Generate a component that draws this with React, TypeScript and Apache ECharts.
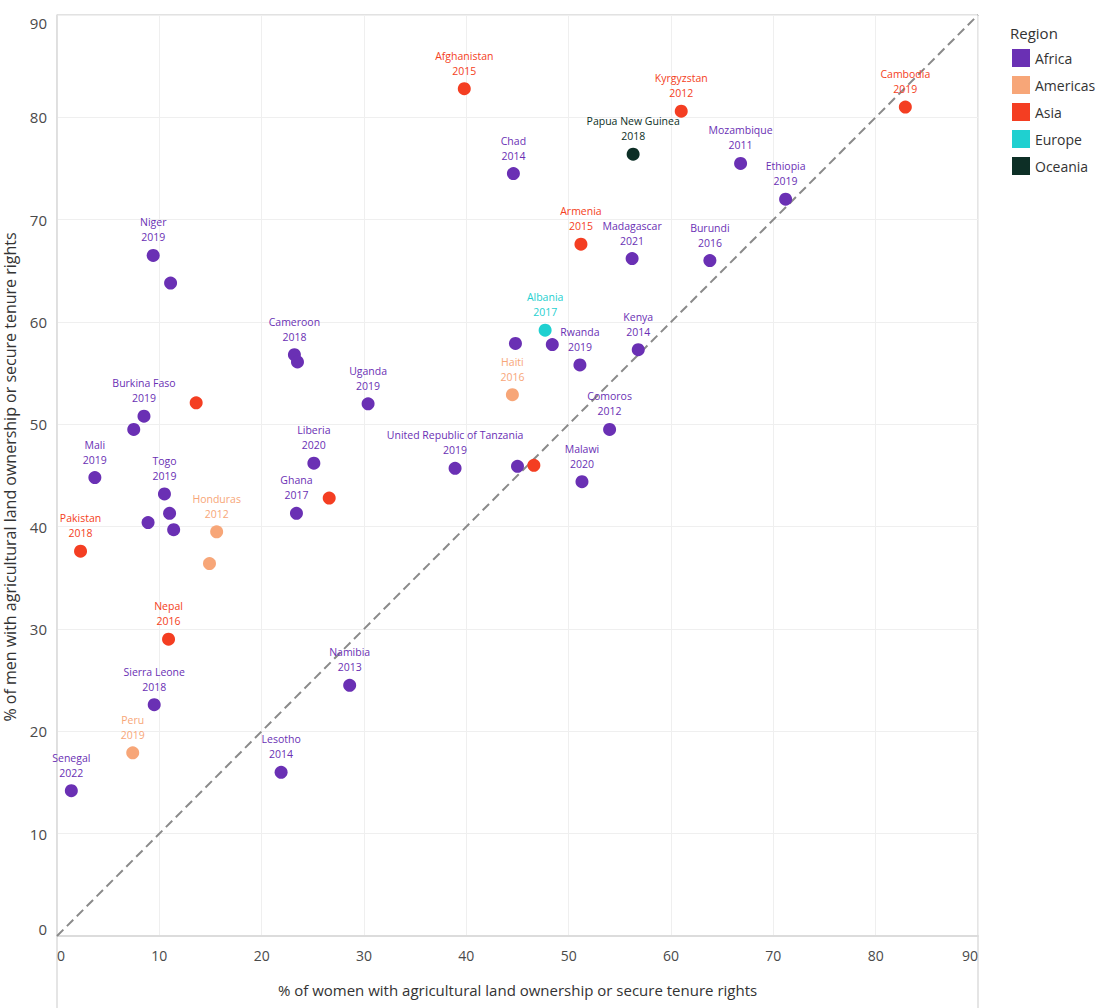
import React, { useEffect, useRef } from "react";
import * as echarts from "echarts";

const regionNames = ["Africa", "Americas", "Asia", "Europe", "Oceania"];
const regionColors = ["#6a30b4", "#f7a678", "#f43e22", "#1fd0d0", "#0d2f26"];

const countries = [
  "Afghanistan", "Kyrgyzstan", "Cambodia", "Papua New Guinea", "Chad", "Mozambique", "Ethiopia", "Niger", "",
  "Armenia", "Madagascar", "Burundi", "Albania", "", "", "Rwanda", "Kenya", "Cameroon", "",
  "Haiti", "Uganda", "Burkina Faso", "", "", "Comoros", "Mali", "Liberia", "United Republic of Tanzania", "", "",
  "Malawi", "Togo", "", "", "", "Ghana", "", "Honduras", "", "Pakistan", "Nepal", "Sierra Leone", "Peru",
  "Senegal", "Namibia", "Lesotho",
];
const years = [
  "2015", "2012", "2019", "2018", "2014", "2011", "2019", "2019", "",
  "2015", "2021", "2016", "2017", "", "", "2019", "2014", "2018", "",
  "2016", "2019", "2019", "", "", "2012", "2019", "2020", "2019", "", "",
  "2020", "2019", "", "", "", "2017", "", "2012", "", "2018", "2016", "2018", "2019",
  "2022", "2013", "2014",
];
const womenPct = [
  39.8, 61.0, 82.9, 56.3, 44.6, 66.8, 71.2, 9.4, 11.1,
  51.2, 56.2, 63.8, 47.7, 44.8, 48.4, 51.1, 56.8, 23.2, 23.5,
  44.5, 30.4, 8.5, 7.5, 13.6, 54.0, 3.7, 25.1, 38.9, 45.0, 46.6,
  51.3, 10.5, 11.0, 11.4, 8.9, 23.4, 26.6, 15.6, 14.9, 2.3, 10.9, 9.5, 7.4,
  1.4, 28.6, 21.9,
];
const menPct = [
  82.8, 80.6, 81.0, 76.4, 74.5, 75.5, 72.0, 66.5, 63.8,
  67.6, 66.2, 66.0, 59.2, 57.9, 57.8, 55.8, 57.3, 56.8, 56.1,
  52.9, 52.0, 50.8, 49.5, 52.1, 49.5, 44.8, 46.2, 45.7, 45.9, 46.0,
  44.4, 43.2, 41.3, 39.7, 40.4, 41.3, 42.8, 39.5, 36.4, 37.6, 29.0, 22.6, 17.9,
  14.2, 24.5, 16.0,
];
const regions = [
  "Asia", "Asia", "Asia", "Oceania", "Africa", "Africa", "Africa", "Africa", "Africa",
  "Asia", "Africa", "Africa", "Europe", "Africa", "Africa", "Africa", "Africa", "Africa", "Africa",
  "Americas", "Africa", "Africa", "Africa", "Asia", "Africa", "Africa", "Africa", "Africa", "Africa", "Asia",
  "Africa", "Africa", "Africa", "Africa", "Africa", "Africa", "Asia", "Americas", "Americas", "Asia", "Asia", "Africa", "Americas",
  "Africa", "Africa", "Africa",
];
const parityLine = [0, 90];
const axisTicks = [0, 10, 20, 30, 40, 50, 60, 70, 80, 90];

const xTitle = "% of women with agricultural land ownership or secure tenure rights";
const yTitle = "% of men with agricultural land ownership or secure tenure rights";

const FONT = "'Open Sans', 'Noto Sans', sans-serif";

export default function App() {
  const ref = useRef<HTMLDivElement>(null);

  useEffect(() => {
    if (!ref.current) return;
    const chart = echarts.init(ref.current, null, { renderer: "svg" });

    const scatterSeries = regionNames.map((reg, ri) => {
      const data: any[] = [];
      countries.forEach((c, i) => {
        if (regions[i] !== reg) return;
        data.push({
          name: c,
          value: [womenPct[i], menPct[i]],
          year: years[i],
          label: { show: c !== "" },
        });
      });
      return {
        type: "scatter",
        name: reg,
        data,
        symbolSize: 13,
        z: 3,
        itemStyle: { color: regionColors[ri], opacity: 1 },
        label: {
          show: true,
          position: "top",
          distance: 4,
          color: regionColors[ri],
          fontFamily: FONT,
          fontSize: 10.5,
          fontWeight: 500,
          lineHeight: 15,
          align: "center",
          formatter: (p: any) => (p.name ? p.name + "\n" + p.data.year : ""),
        },
        labelLayout: { hideOverlap: false },
      };
    });

    const option: any = {
      animation: false,
      backgroundColor: "#ffffff",
      textStyle: { fontFamily: FONT },
      grid: { left: 57, top: 15, width: 921, height: 921, containLabel: false },
      xAxis: {
        type: "value",
        min: axisTicks[0],
        max: axisTicks[axisTicks.length - 1],
        interval: 10,
        name: xTitle,
        nameLocation: "middle",
        nameGap: 46,
        nameTextStyle: { fontFamily: FONT, fontSize: 15, color: "#333" },
        axisLine: { show: true, lineStyle: { color: "#dcdcdc", width: 2 } },
        axisTick: { show: false },
        axisLabel: {
          fontFamily: FONT,
          fontSize: 14,
          color: "#4a4a4a",
          margin: 12,
          alignMinLabel: "left",
          alignMaxLabel: "right",
        },
        splitLine: { show: true, lineStyle: { color: "#efefef", width: 1 } },
      },
      yAxis: {
        type: "value",
        min: axisTicks[0],
        max: axisTicks[axisTicks.length - 1],
        interval: 10,
        axisLine: { show: true, lineStyle: { color: "#dcdcdc", width: 1.5 } },
        axisTick: { show: false },
        axisLabel: {
          fontFamily: FONT,
          fontSize: 15,
          color: "#4a4a4a",
          margin: 10,
          verticalAlignMinLabel: "bottom",
          verticalAlignMaxLabel: "top",
        },
        splitLine: { show: true, lineStyle: { color: "#efefef", width: 1 } },
      },
      legend: {
        orient: "vertical",
        left: 1012,
        top: 49,
        padding: 0,
        icon: "rect",
        itemWidth: 18,
        itemHeight: 18,
        itemGap: 9,
        data: regionNames,
        textStyle: { fontFamily: FONT, fontSize: 14, color: "#333" },
        selectedMode: false,
      },
      graphic: [
        {
          type: "text",
          left: 1010,
          top: 25,
          style: { text: "Region", fontFamily: FONT, fontSize: 15, fill: "#333" },
        },
        {
          type: "text",
          x: 10,
          y: 477,
          rotation: Math.PI / 2,
          style: {
            text: yTitle,
            fontFamily: FONT,
            fontSize: 16,
            fill: "#333",
            align: "center",
            verticalAlign: "middle",
          },
        },
        { type: "line", shape: { x1: 57, y1: 15, x2: 978, y2: 15 }, style: { stroke: "#e2e2e2", lineWidth: 2 } },
        { type: "line", shape: { x1: 57, y1: 15, x2: 57, y2: 1008 }, style: { stroke: "#dcdcdc", lineWidth: 1.5 } },
        { type: "line", shape: { x1: 978, y1: 15, x2: 978, y2: 1008 }, style: { stroke: "#dcdcdc", lineWidth: 1.5 } },
      ],
      series: [
        {
          type: "line",
          name: "parity",
          data: [
            [parityLine[0], parityLine[0]],
            [parityLine[1], parityLine[1]],
          ],
          symbol: "none",
          z: 2,
          lineStyle: { color: "#8a8a8a", width: 2, type: [9, 5] },
          silent: true,
        },
        ...scatterSeries,
      ],
    };

    chart.setOption(option);
    return () => chart.dispose();
  }, []);

  return (
    <div
      ref={ref}
      style={{ position: "fixed", left: 0, top: 0, width: 1097, height: 1008, background: "#fff" }}
    />
  );
}
